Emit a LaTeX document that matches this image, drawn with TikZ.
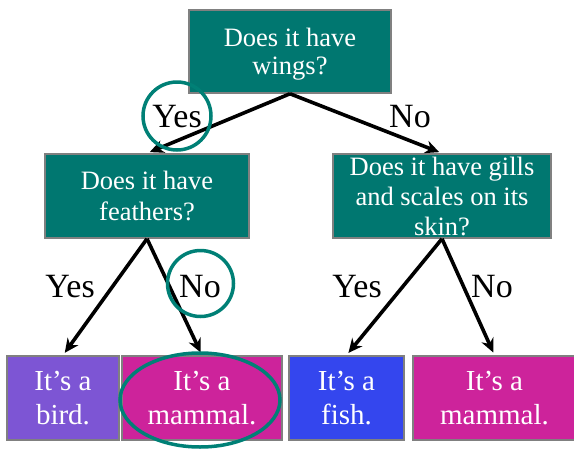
\documentclass[tikz,border=0pt]{standalone}
\usepackage{fontspec}
\setmainfont{Liberation Serif}
\usetikzlibrary{arrows.meta}
\definecolor{tealbox}{RGB}{0,119,112}
\definecolor{tealring}{RGB}{0,128,118}
\definecolor{birdc}{RGB}{125,85,212}
\definecolor{mammalc}{RGB}{205,35,155}
\definecolor{fishc}{RGB}{52,70,238}
\definecolor{edgegray}{RGB}{128,128,128}
\tikzset{
  qbox/.style={draw=edgegray, line width=1.5pt, fill=tealbox, text=white, inner sep=0pt,
    align=center, text depth=0pt, font=\fontsize{26.5}{28}\selectfont},
  leaf/.style={draw=edgegray, line width=1.5pt, text=white, inner sep=0pt,
    align=center, text depth=0pt, font=\fontsize{29}{34}\selectfont},
  arr/.style={line width=3.6pt, -{Stealth[length=14pt,width=13pt]}, shorten >=3pt},
  lbl/.style={font=\fontsize{34}{34}\selectfont, anchor=base, inner sep=0pt},
  ring/.style={draw=tealring, line width=3.5pt}
}
\begin{document}
\begin{tikzpicture}[x=1pt,y=-1pt]
\useasboundingbox (0,0) rectangle (574,448);
\fill[white] (0,0) rectangle (574,448);
% question boxes
\node[qbox, minimum width=202pt, minimum height=83pt] (top) at (290,51.5) {Does it have\\wings?};
\node[qbox, minimum width=204pt, minimum height=84pt, font=\fontsize{26.5}{31}\selectfont] (feat) at (147,196) {Does it have\\feathers?};
\node[qbox, minimum width=218pt, minimum height=84pt, font=\fontsize{26.5}{30}\selectfont] (gill) at (442,196) {Does it have gills\\and scales on its\\skin?};
% leaves
\node[leaf, fill=birdc, minimum width=112pt, minimum height=84pt] (bird) at (63,398) {It’s a\\bird.};
\node[leaf, fill=mammalc, minimum width=160pt, minimum height=84pt] (mam1) at (202,398) {It’s a\\mammal.};
\node[leaf, fill=fishc, minimum width=115pt, minimum height=84pt] (fish) at (346.5,398) {It’s a\\fish.};
\node[leaf, fill=mammalc, minimum width=163pt, minimum height=84pt] (mam2) at (494.5,398) {It’s a\\mammal.};
% connectors
\draw[arr] (top.south) -- (feat.north);
\draw[arr] (top.south) -- (gill.north);
\draw[arr] (feat.south) -- (bird.north);
\draw[arr] (feat.south) -- (mam1.north);
\draw[arr] (gill.south) -- (fish.north);
\draw[arr] (gill.south) -- (mam2.north);
% labels
\node[lbl] (y1) at (177,127) {Yes};
\node[lbl] (n1) at (410,127) {No};
\node[lbl] (y2) at (70,297) {Yes};
\node[lbl] (n2) at (200,297) {No};
\node[lbl] (y3) at (357,297) {Yes};
\node[lbl] (n3) at (492,297) {No};
% highlight rings
\draw[ring] (177,116) circle[radius=34pt];
\draw[ring] (200.5,283.5) circle[radius=33pt];
\draw[ring] (200,400) ellipse[x radius=80pt, y radius=47pt];
\end{tikzpicture}
\end{document}
